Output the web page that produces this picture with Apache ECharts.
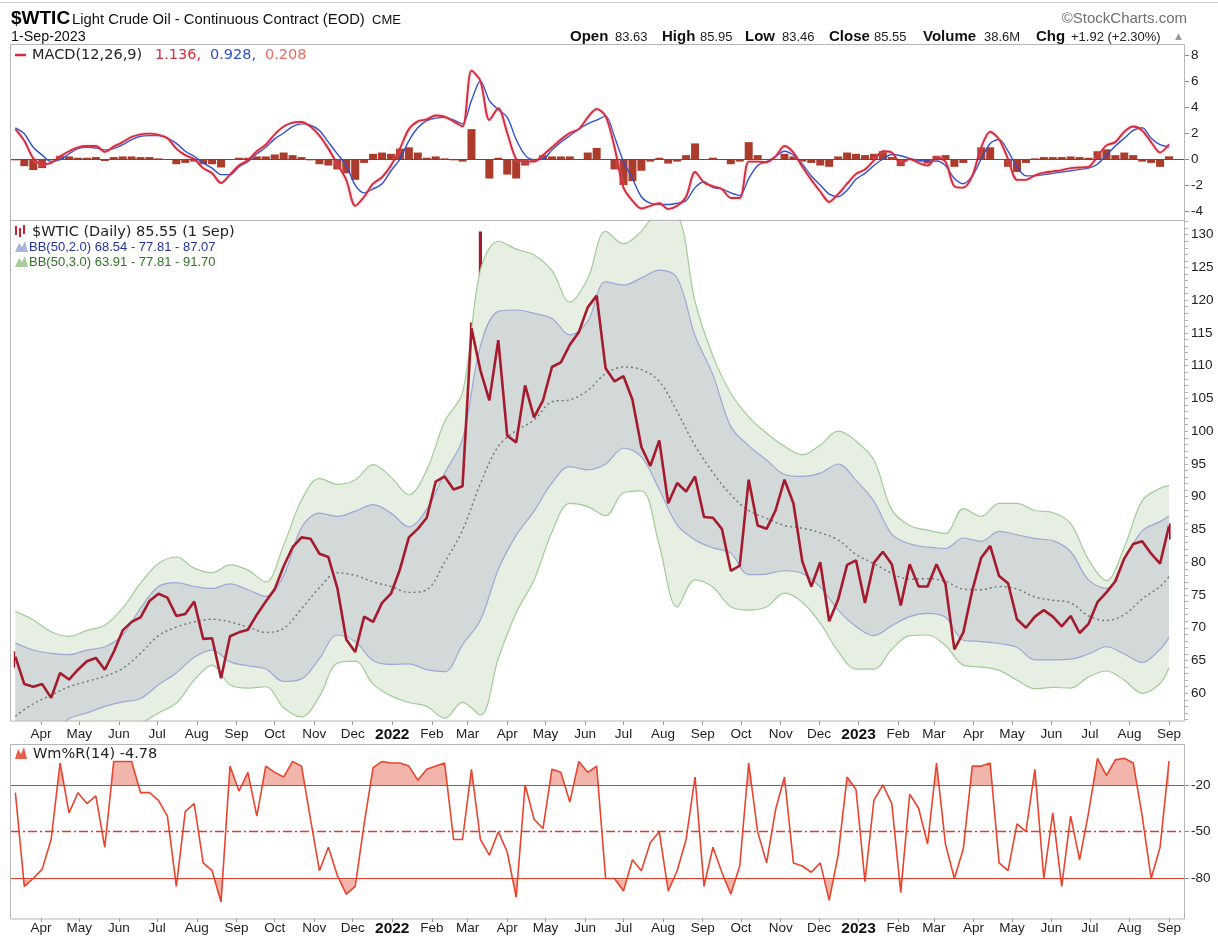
<!DOCTYPE html>
<html>
<head>
<meta charset="utf-8">
<title>$WTIC Light Crude Oil</title>
<script src="https://cdn.jsdelivr.net/npm/echarts@6.0.0/dist/echarts.min.js"></script>
<style>
  html, body { margin: 0; padding: 0; background: #fff; }
  #chart { width: 1218px; height: 937px; }
</style>
</head>
<body>
<div id="chart"></div>
<script>
// weekly samples (Fridays), starting 12 Mar 2021
const firstWeek = [2021, 2, 12];

const priceClose = [
  65.6, 61.4, 61.0, 61.4, 59.3, 63.1, 62.1, 63.6, 64.9, 65.4, 63.6, 66.3, 69.6, 70.9, 71.6, 74.1, 75.2, 74.6, 71.8, 72.1, 74.0, 68.3,
  68.4, 62.3, 68.7, 69.3, 69.7, 72.0, 74.0, 75.9, 79.4, 82.3, 83.8, 83.6, 81.3, 80.8, 76.1, 68.2, 66.3, 71.7, 70.9, 73.8, 75.2,
  78.9, 83.8, 85.1, 86.8, 92.3, 93.1, 91.1, 91.6, 115.7, 109.3, 104.7, 113.9, 99.3, 98.3, 107.0, 102.1, 104.7, 109.8, 110.5, 113.2,
  115.1, 118.9, 120.7, 109.6, 107.6, 108.4, 104.8, 97.6, 94.7, 98.6, 89.0, 92.1, 90.8, 93.1, 86.9, 86.8, 85.1, 78.7, 79.5, 92.6,
  85.6, 85.1, 87.9, 92.6, 89.0, 80.1, 76.3, 80.0, 71.0, 74.3, 79.6, 80.3,
  73.8, 79.9, 81.6, 79.7, 73.4, 79.7, 76.3, 76.3, 79.7, 76.7, 66.7, 69.3, 75.7, 80.7, 82.5, 77.9, 76.8, 71.3, 70.0, 71.7, 72.7,
  71.7, 70.2, 71.8, 69.2, 70.6, 73.9, 75.4, 77.1, 80.6, 82.8, 83.2, 81.3, 79.8, 85.55
];
const priceHigh = [
  66.4, 66.0, 61.5, 62.2, 61.5, 63.5, 64.0, 65.5, 66.6, 66.4, 66.0, 67.0, 69.8, 70.9, 72.9, 74.1, 76.0, 77.0, 75.5, 72.5, 74.0, 74.0,
  69.8, 68.6, 69.0, 70.0, 70.2, 73.0, 74.0, 76.7, 79.8, 82.2, 84.0, 85.4, 84.9, 84.9, 81.0, 79.3, 72.0, 72.6, 72.4, 73.9, 77.5,
  80.2, 84.0, 87.9, 88.8, 93.2, 94.0, 95.8, 100.5, 116.6, 130.5, 110.0, 115.4, 114.0, 105.6, 107.0, 108.6, 105.6, 111.4, 110.9, 115.0,
  115.2, 119.4, 123.2, 123.0, 111.7, 114.0, 111.5, 105.2, 104.2, 99.1, 98.9, 94.8, 92.8, 95.0, 97.7, 89.0, 89.4, 86.7, 82.7, 92.6,
  93.6, 86.6, 89.4, 92.7, 93.7, 89.3, 82.6, 83.3, 81.3, 77.8, 80.3, 81.2,
  81.5, 80.0, 82.4, 82.7, 79.5, 80.2, 80.0, 77.4, 80.2, 81.0, 76.0, 71.0, 75.8, 81.8, 83.5, 83.0, 79.2, 76.2, 74.0, 72.5, 74.7,
  73.5, 75.1, 72.0, 72.5, 71.0, 74.0, 77.3, 77.0, 80.8, 83.0, 84.9, 84.0, 81.0, 85.95
];
const priceLow = [
  63.9, 60.0, 57.3, 58.9, 58.2, 59.5, 60.7, 61.5, 63.0, 62.3, 61.6, 62.6, 66.0, 68.5, 70.0, 71.0, 72.8, 71.0, 71.0, 65.0, 71.3, 67.2,
  65.2, 61.7, 62.0, 66.8, 67.6, 69.0, 69.6, 73.0, 75.5, 78.5, 80.8, 81.0, 78.3, 78.0, 75.4, 67.4, 62.4, 66.0, 69.0, 66.1, 73.7,
  74.3, 78.1, 82.5, 82.0, 86.5, 88.2, 89.6, 88.3, 91.5, 103.5, 93.5, 102.2, 98.4, 93.9, 92.9, 100.5, 95.3, 101.0, 98.2, 102.7,
  108.7, 109.4, 116.0, 107.8, 101.5, 104.6, 95.1, 90.6, 94.2, 94.0, 87.0, 87.0, 85.7, 86.7, 85.5, 81.2, 83.0, 78.1, 76.3, 79.5,
  85.0, 82.1, 83.0, 86.3, 84.7, 79.6, 75.1, 76.0, 70.3, 70.6, 73.6, 77.4,
  72.5, 73.0, 78.0, 79.0, 72.3, 73.2, 75.8, 73.8, 75.8, 74.8, 65.7, 64.1, 69.3, 79.0, 79.5, 76.9, 74.8, 63.6, 69.8, 69.4, 70.6,
  67.0, 69.4, 67.1, 68.5, 67.1, 68.6, 72.7, 73.9, 76.4, 78.8, 80.6, 78.9, 77.6, 83.46
];

// Bollinger bands, every second week plus the last day
const bbUpper3 = [
  72.5, 71.2, 69.4, 68.7, 69.6, 70.4, 73.0, 76.8, 79.8, 80.8, 79.1, 78.4, 79.6, 78.8, 77.0, 82.6, 89.5, 92.8, 91.9, 92.6, 94.9, 93.0,
  90.3, 94.1, 101.5, 105.9, 124.6, 129.0, 127.8, 126.9, 124.5, 119.7, 123.3, 130.5, 128.6, 130.5, 133.5, 133.0, 119.8, 111.5,
  105.8, 102.2, 99.7, 97.7, 96.4, 97.9, 100.0, 98.5, 95.6, 88.0, 85.6, 84.9, 84.4, 88.2, 87.0, 89.0, 89.0, 87.9, 87.6, 85.9,
  80.4, 77.2, 82.3, 89.4, 91.3, 91.70
];
const bbUpper2 = [
  67.7, 66.6, 66.1, 65.9, 66.6, 67.1, 68.9, 73.0, 76.3, 76.9, 76.3, 76.0, 76.7, 75.8, 74.8, 78.0, 85.3, 87.5, 87.0, 87.8, 88.8, 87.5,
  85.4, 88.1, 93.6, 98.8, 113.0, 118.3, 118.5, 118.0, 117.2, 114.7, 116.8, 122.8, 122.3, 123.4, 124.6, 123.4, 114.6, 108.6,
  100.7, 97.8, 95.6, 93.4, 93.1, 93.6, 95.0, 92.5, 89.3, 84.3, 82.8, 82.3, 82.1, 83.7, 83.2, 84.7, 84.2, 83.6, 83.3, 81.6,
  77.3, 76.0, 80.4, 84.8, 86.2, 87.07
];
const bbMid = [
  56.5, 58.4, 59.7, 61.0, 61.8, 62.6, 63.8, 66.1, 68.8, 70.1, 70.9, 71.3, 70.9, 70.1, 69.3, 69.9, 72.9, 76.1, 78.4, 78.0, 77.0, 76.3,
  75.4, 75.8, 80.0, 84.9, 92.0, 97.7, 100.1, 101.7, 104.5, 104.8, 106.2, 108.8, 109.8, 109.4, 107.6, 103.0, 97.8, 93.7,
  90.3, 87.9, 86.7, 85.6, 85.2, 84.5, 83.4, 81.2, 79.8, 78.3, 77.4, 77.5, 77.1, 75.9, 75.8, 76.3, 75.9, 74.7, 74.2, 73.8,
  71.8, 71.1, 72.0, 74.4, 76.3, 77.81
];
const bbLower2 = [
  45.3, 50.2, 53.3, 56.1, 57.0, 58.0, 58.7, 59.2, 61.3, 63.1, 65.5, 66.6, 64.8, 64.2, 63.7, 61.8, 62.2, 65.3, 68.9, 67.9, 65.0, 64.4,
  64.5, 63.6, 63.3, 67.4, 71.2, 78.9, 84.1, 87.8, 92.1, 94.6, 94.1, 95.0, 97.4, 96.1, 91.1, 85.7, 83.4, 82.2,
  81.4, 78.1, 78.2, 78.7, 78.3, 76.2, 72.7, 70.2, 68.8, 70.3, 71.7, 72.2, 71.6, 68.1, 67.9, 67.6, 67.0, 65.1, 65.1, 65.2,
  66.0, 67.1, 66.0, 64.7, 66.7, 68.54
];
const bbLower3 = [
  40.5, 45.6, 50.0, 53.3, 54.2, 55.1, 54.6, 55.4, 57.0, 58.5, 62.0, 64.3, 61.3, 60.8, 61.0, 57.8, 56.4, 59.5, 64.6, 64.9, 61.4, 59.6,
  58.6, 58.0, 56.2, 58.6, 56.7, 65.3, 72.3, 77.3, 84.6, 89.0, 88.5, 87.1, 90.6, 90.9, 82.6, 73.2, 77.3, 76.2,
  73.2, 72.7, 73.2, 75.3, 73.9, 70.7, 66.4, 63.7, 63.7, 66.7, 68.8, 68.9, 67.3, 64.3, 64.0, 63.5, 62.0, 60.7, 60.9, 60.8,
  62.5, 63.4, 62.0, 60.0, 61.5, 63.91
];

// MACD(12,26,9), weekly
const macdLine = [
  2.3, 1.4, 0.05, -0.4, -0.3, 0.2, 0.6, 0.9, 1.0, 1.0, 0.55, 0.95, 1.3, 1.7, 1.9, 1.95, 1.85, 1.6, 0.8, 0.3, 0.0, -0.7,
  -1.1, -1.85, -1.2, -0.5, -0.1, 0.6, 1.1, 1.9, 2.5, 2.8, 2.85, 2.5, 1.8, 0.8, -0.4, -1.6, -3.6, -2.9, -1.9, -1.4, -0.5,
  0.8, 2.3, 2.9, 3.05, 3.35, 3.25, 2.9, 2.5, 6.8, 6.0, 3.0, 3.9, 2.0, 0.0, -0.2, -0.2, 0.3, 0.9, 1.5, 2.0,
  2.3, 3.2, 3.85, 3.3, 0.9, -2.2, -3.2, -3.8, -3.6, -3.4, -3.85, -3.6, -2.9, -1.0, -1.8, -2.1, -2.3, -3.0, -3.0, -0.2,
  -0.2, -0.25, 0.2, 1.0, 0.5, -0.6, -1.6, -2.5, -3.3, -2.7, -1.9, -1.15,
  -0.8, -0.1, 0.6, 0.5, -0.3, 0.0, -0.3, -0.5, 0.1, -0.2, -2.1, -2.2, -1.3, 0.9, 2.1, 1.5, 0.0, -1.6, -1.6, -1.25, -1.05,
  -0.95, -0.85, -0.7, -0.65, -0.6, 0.2, 1.05, 1.3, 2.1, 2.5, 2.2, 1.3, 0.5, 1.136
];
const macdSignal = [
  2.4, 1.95, 0.9, 0.3, -0.2, -0.05, 0.4, 0.8, 0.9, 0.85, 0.7, 0.8, 1.1, 1.5, 1.75, 1.8, 1.8, 1.6, 1.2, 0.6, 0.2, -0.3,
  -0.7, -1.2, -1.2, -0.6, -0.2, 0.4, 0.9, 1.55, 2.0, 2.5, 2.7, 2.6, 2.2, 1.3, 0.4, -0.5, -2.0, -2.6, -2.3, -1.9, -0.9,
  0.0, 1.4, 2.4, 2.95, 3.15, 3.2, 3.0, 2.7, 4.5, 6.0, 4.5, 3.8, 3.2, 1.5, 0.3, -0.05, 0.0, 0.7, 1.3, 1.8,
  2.3, 2.7, 3.0, 3.3, 1.7, -0.2, -1.5, -2.9, -3.4, -3.5, -3.5, -3.4, -3.2, -2.2, -1.75, -2.2, -2.3, -2.6, -2.8, -1.5,
  -0.5, -0.2, 0.2, 0.6, 0.3, -0.4, -1.3, -2.0, -2.7, -2.9, -2.4, -1.55,
  -1.1, -0.5, 0.0, 0.35, 0.25, 0.05, -0.1, -0.15, -0.15, -0.5, -1.5, -1.9, -1.3, 0.0, 1.2, 1.5, 0.6, -0.6, -1.3, -1.3, -1.2,
  -1.1, -1.0, -0.9, -0.8, -0.7, -0.4, 0.3, 1.0, 1.6, 2.2, 2.4, 1.6, 1.1, 0.928
];
const macdHist = [
  -0.1, -0.55, -0.85, -0.7, -0.1, 0.25, 0.2, 0.1, 0.1, 0.15, -0.15, 0.15, 0.2, 0.2, 0.15, 0.15, 0.05, 0.0, -0.4, -0.3, -0.2, -0.4,
  -0.4, -0.65, 0.0, 0.1, 0.1, 0.2, 0.2, 0.35, 0.5, 0.3, 0.15, -0.1, -0.4, -0.5, -0.8, -1.1, -1.6, -0.3, 0.4, 0.5, 0.4,
  0.8, 0.9, 0.5, 0.1, 0.2, 0.05, -0.1, -0.2, 2.3, 0.0, -1.5, 0.1, -1.2, -1.5, -0.5, -0.15, 0.3, 0.2, 0.2, 0.2,
  0.0, 0.5, 0.85, 0.0, -0.8, -2.0, -1.7, -0.9, -0.2, 0.1, -0.35, -0.2, 0.3, 1.2, -0.05, 0.1, 0.0, -0.4, -0.2, 1.3,
  0.3, -0.05, 0.0, 0.4, 0.2, -0.2, -0.3, -0.5, -0.6, 0.2, 0.5, 0.4,
  0.3, 0.4, 0.6, 0.15, -0.55, -0.05, -0.2, -0.35, 0.25, 0.3, -0.6, -0.3, 0.0, 0.9, 0.9, 0.0, -0.6, -1.0, -0.3, 0.05, 0.15,
  0.15, 0.15, 0.2, 0.15, 0.1, 0.6, 0.75, 0.3, 0.5, 0.3, -0.2, -0.3, -0.6, 0.208
];

// Williams %R(14), weekly
const williamsR = [
  -25, -85, -80, -74, -55, -6, -38, -25, -32, -27, -60, -5, -5, -5, -25, -25, -30, -40, -85, -37, -32, -70,
  -75, -95, -8, -24, -12, -40, -8, -12, -15, -5, -8, -42, -75, -60, -78, -90, -85, -45, -9, -5, -6,
  -6, -8, -17, -10, -8, -6, -55, -55, -10, -55, -65, -50, -63, -92, -20, -42, -48, -10, -12, -31,
  -5, -12, -8, -80, -80, -88, -68, -75, -57, -50, -88, -75, -55, -15, -85, -60, -76, -90, -72, -6,
  -50, -70, -36, -15, -70, -72, -76, -70, -94, -65, -15, -23,
  -82, -30, -20, -32, -89, -26, -35, -58, -6, -58, -80, -61, -8, -8, -6, -70, -75, -45, -50, -10, -80,
  -38, -85, -40, -68, -38, -3, -14, -4, -3, -6, -40, -80, -60, -4.78
];

// axis tick labels
const macdLabels = [-4, -2, 0, 2, 4, 6, 8];
const priceLabels = [60, 65, 70, 75, 80, 85, 90, 95, 100, 105, 110, 115, 120, 125, 130];
const wmrLabels = [-20, -50, -80];
const monthNames = ['Jan', 'Feb', 'Mar', 'Apr', 'May', 'Jun', 'Jul', 'Aug', 'Sep', 'Oct', 'Nov', 'Dec'];

const DAY = 86400000;
const t0 = new Date(firstWeek[0], firstWeek[1], firstWeek[2]).getTime();
const weekDates = priceClose.map((_, i) => t0 + i * 7 * DAY);
const bbDates = weekDates.filter((_, i) => i % 2 === 0 || i === weekDates.length - 1);

const monthTicks = [];
for (let y = 2021, m = 3; y < 2023 || m <= 8;) {
  monthTicks.push(new Date(y, m, 1).getTime());
  m++;
  if (m > 11) { m = 0; y++; }
}
const priceMinorTicks = [];
for (let v = 56; v <= 132; v++) priceMinorTicks.push(v);

const xMin = new Date(2021, 2, 8, 14).getTime();
const xMax = new Date(2023, 8, 13, 12).getTime();

const pair = (dates, vals) => dates.map((t, i) => [t, vals[i]]);

const monthLabel = (v) => {
  const d = new Date(v);
  return d.getMonth() === 0 ? '{yr|' + d.getFullYear() + '}' : monthNames[d.getMonth()];
};

// dates are plotted on a numeric (timestamp) axis so month ticks can be placed exactly
const xAxisFor = (idx, showLabels, margin) => {
  const axis = {
    type: 'value', gridIndex: idx, min: xMin, max: xMax,
    axisLine: { show: false, onZero: false },
    splitLine: { show: false }
  };
  if (!showLabels) return Object.assign(axis, { show: false });
  return Object.assign(axis, {
    axisTick: { show: true, customValues: monthTicks, length: 4, lineStyle: { color: '#9a9a9a' } },
    axisLabel: {
      show: true,
      customValues: monthTicks,
      formatter: monthLabel,
      margin: margin,
      color: '#1e1e1e',
      fontFamily: 'Liberation Sans',
      fontSize: 13.5,
      hideOverlap: false,
      rich: { yr: { fontFamily: 'Liberation Sans', fontWeight: 'bold', fontSize: 15.5, color: '#111' } }
    }
  });
};

const yLabelStyle = { color: '#222', fontFamily: 'Liberation Sans', fontSize: 13.5, margin: 6 };

const bbBand = (vals, fill, stroke) => ({
  type: 'line',
  xAxisIndex: 1,
  yAxisIndex: 1,
  data: pair(bbDates, vals),
  smooth: 0.35,
  showSymbol: false,
  silent: true,
  lineStyle: { color: stroke, width: 1.2 },
  areaStyle: { origin: 'start', color: fill, opacity: 1 }
});

const GREEN_FILL = '#e6efe2';
const GREY_FILL = '#d3d8d9';
const GREEN_LINE = '#a3cb99';
const BLUE_LINE = '#9ea8d6';
const PRICE_RED = '#a51a2c';

const chart = echarts.init(document.getElementById('chart'), null, { renderer: 'canvas' });

chart.setOption({
  animation: false,
  backgroundColor: '#fff',
  grid: [
    { left: 11, width: 1174, top: 45, height: 175 },
    { left: 11, width: 1174, top: 220, height: 501 },
    { left: 11, width: 1174, top: 745, height: 174 },
    { left: 11, width: 1174, top: 745, height: 40 },
    { left: 11, width: 1174, top: 879.3, height: 39.7 }
  ],
  xAxis: [
    xAxisFor(0, false),
    xAxisFor(1, true, 6),
    xAxisFor(2, true, 3),
    xAxisFor(3, false),
    xAxisFor(4, false)
  ],
  yAxis: [
    {
      type: 'value', gridIndex: 0, position: 'right', min: -4.69, max: 8.77,
      axisLine: { show: false },
      axisTick: { show: true, customValues: macdLabels, length: 4, lineStyle: { color: '#8a8a8a' } },
      axisLabel: Object.assign({ customValues: macdLabels }, yLabelStyle),
      splitLine: { show: false }
    },
    {
      type: 'value', gridIndex: 1, position: 'right', min: 55.77, max: 132.24,
      axisLine: { show: false },
      axisTick: { show: true, customValues: priceMinorTicks, length: 3, lineStyle: { color: '#b0b0b0' } },
      axisLabel: Object.assign({ customValues: priceLabels }, yLabelStyle),
      splitLine: { show: false }
    },
    {
      type: 'value', gridIndex: 2, position: 'right', min: -105.3, max: 5.53,
      axisLine: { show: false },
      axisTick: { show: true, customValues: wmrLabels, length: 4, lineStyle: { color: '#8a8a8a' } },
      axisLabel: Object.assign({ customValues: wmrLabels }, yLabelStyle),
      splitLine: { show: false }
    },
    { type: 'value', gridIndex: 3, min: -20, max: 5.53, show: false },
    { type: 'value', gridIndex: 4, min: -105.3, max: -80, show: false }
  ],
  series: [
    // MACD panel
    {
      type: 'bar', xAxisIndex: 0, yAxisIndex: 0, data: pair(weekDates, macdHist),
      barWidth: 8, itemStyle: { color: '#ad3b2c' }, silent: true,
      markLine: {
        silent: true, symbol: 'none', label: { show: false },
        lineStyle: { color: '#a03526', width: 1, type: 'solid' },
        data: [{ yAxis: 0 }]
      }
    },
    {
      type: 'line', xAxisIndex: 0, yAxisIndex: 0, data: pair(weekDates, macdSignal),
      smooth: 0.3, showSymbol: false, silent: true,
      lineStyle: { color: '#2d4ed0', width: 1.4 }
    },
    {
      type: 'line', xAxisIndex: 0, yAxisIndex: 0, data: pair(weekDates, macdLine),
      smooth: 0.3, showSymbol: false, silent: true,
      lineStyle: { color: '#d42c3e', width: 1.9, shadowColor: 'rgba(240,150,160,0.75)', shadowBlur: 2.5 }
    },
    // price panel: bands drawn top-down so each fill covers the one above it
    bbBand(bbUpper3, GREEN_FILL, GREEN_LINE),
    bbBand(bbUpper2, GREY_FILL, BLUE_LINE),
    bbBand(bbLower2, GREEN_FILL, BLUE_LINE),
    bbBand(bbLower3, '#ffffff', GREEN_LINE),
    {
      type: 'line', xAxisIndex: 1, yAxisIndex: 1, data: pair(bbDates, bbMid),
      smooth: 0.35, showSymbol: false, silent: true,
      lineStyle: { color: '#6c7774', width: 1.4, type: [2, 3] }
    },
    {
      type: 'custom', xAxisIndex: 1, yAxisIndex: 1, silent: true, clip: true,
      data: weekDates.map((t, i) => [t, priceLow[i], priceHigh[i]]),
      encode: { x: 0, y: [1, 2] },
      renderItem: (params, api) => {
        const lo = api.coord([api.value(0), api.value(1)]);
        const hi = api.coord([api.value(0), api.value(2)]);
        return {
          type: 'line',
          shape: { x1: lo[0], y1: lo[1], x2: hi[0], y2: hi[1] },
          style: { stroke: PRICE_RED, lineWidth: 3.2 }
        };
      }
    },
    {
      type: 'line', xAxisIndex: 1, yAxisIndex: 1, data: pair(weekDates, priceClose),
      showSymbol: false, silent: true,
      lineStyle: { color: PRICE_RED, width: 2.6 }
    },
    // Williams %R panel
    {
      type: 'line', xAxisIndex: 2, yAxisIndex: 2, data: pair(weekDates, williamsR),
      showSymbol: false, silent: true, z: 4,
      lineStyle: { color: '#e8442e', width: 1.6 },
      markLine: {
        silent: true, symbol: 'none', label: { show: false },
        lineStyle: { color: '#e03c2a', width: 1.2, type: 'solid' },
        data: [
          { yAxis: -20 },
          { yAxis: -80 },
          { yAxis: -50, lineStyle: { type: [9, 3, 2, 3], width: 1.4 } }
        ]
      }
    },
    {
      type: 'line', xAxisIndex: 3, yAxisIndex: 3, data: pair(weekDates, williamsR),
      showSymbol: false, silent: true, z: 1,
      lineStyle: { width: 0 },
      areaStyle: { origin: 'start', color: 'rgba(226,84,62,0.62)' }
    },
    {
      type: 'line', xAxisIndex: 4, yAxisIndex: 4, data: pair(weekDates, williamsR),
      showSymbol: false, silent: true, z: 1,
      lineStyle: { width: 0 },
      areaStyle: { origin: 'end', color: 'rgba(226,84,62,0.62)' }
    }
  ],
  graphic: [
    { type: 'line', z: 100, shape: { x1: 0, y1: 2.5, x2: 1218, y2: 2.5 }, style: { stroke: '#d0d0d0', lineWidth: 1 } },
    { type: 'rect', z: 100, shape: { x: 10.5, y: 44.5, width: 1174, height: 176 }, style: { fill: 'none', stroke: '#b6b6b6', lineWidth: 1 } },
    { type: 'rect', z: 100, shape: { x: 10.5, y: 220.5, width: 1174, height: 500.5 }, style: { fill: 'none', stroke: '#b6b6b6', lineWidth: 1 } },
    { type: 'rect', z: 100, shape: { x: 10.5, y: 744.5, width: 1174, height: 174.5 }, style: { fill: 'none', stroke: '#b6b6b6', lineWidth: 1 } },

    // header
    { type: 'text', z: 100, x: 11, y: 19, style: { text: '$WTIC', font: 'bold 19px "Liberation Sans"', fill: '#000', verticalAlign: 'middle' } },
    { type: 'text', z: 100, x: 72, y: 19.5, style: { text: 'Light Crude Oil - Continuous Contract (EOD)', font: '14.8px "Liberation Sans"', fill: '#111', verticalAlign: 'middle' } },
    { type: 'text', z: 100, x: 372, y: 20, style: { text: 'CME', font: '13px "Liberation Sans"', fill: '#111', verticalAlign: 'middle' } },
    { type: 'text', z: 100, x: 11, y: 37, style: { text: '1-Sep-2023', font: '14.3px "Liberation Sans"', fill: '#111', verticalAlign: 'middle' } },
    { type: 'text', z: 100, x: 1187, y: 19, style: { text: '\u00a9StockCharts.com', font: '15px "Liberation Sans"', fill: '#707070', align: 'right', verticalAlign: 'middle' } },

    { type: 'text', z: 100, x: 570, y: 37, style: { text: 'Open', font: 'bold 15px "Liberation Sans"', fill: '#111', verticalAlign: 'middle' } },
    { type: 'text', z: 100, x: 615, y: 37, style: { text: '83.63', font: '13px "Liberation Sans"', fill: '#222', verticalAlign: 'middle' } },
    { type: 'text', z: 100, x: 662, y: 37, style: { text: 'High', font: 'bold 15px "Liberation Sans"', fill: '#111', verticalAlign: 'middle' } },
    { type: 'text', z: 100, x: 700, y: 37, style: { text: '85.95', font: '13px "Liberation Sans"', fill: '#222', verticalAlign: 'middle' } },
    { type: 'text', z: 100, x: 745, y: 37, style: { text: 'Low', font: 'bold 15px "Liberation Sans"', fill: '#111', verticalAlign: 'middle' } },
    { type: 'text', z: 100, x: 782, y: 37, style: { text: '83.46', font: '13px "Liberation Sans"', fill: '#222', verticalAlign: 'middle' } },
    { type: 'text', z: 100, x: 829, y: 37, style: { text: 'Close', font: 'bold 15px "Liberation Sans"', fill: '#111', verticalAlign: 'middle' } },
    { type: 'text', z: 100, x: 874, y: 37, style: { text: '85.55', font: '13px "Liberation Sans"', fill: '#222', verticalAlign: 'middle' } },
    { type: 'text', z: 100, x: 923, y: 37, style: { text: 'Volume', font: 'bold 15px "Liberation Sans"', fill: '#111', verticalAlign: 'middle' } },
    { type: 'text', z: 100, x: 984, y: 37, style: { text: '38.6M', font: '13px "Liberation Sans"', fill: '#222', verticalAlign: 'middle' } },
    { type: 'text', z: 100, x: 1036, y: 37, style: { text: 'Chg', font: 'bold 15px "Liberation Sans"', fill: '#111', verticalAlign: 'middle' } },
    { type: 'text', z: 100, x: 1071, y: 37, style: { text: '+1.92 (+2.30%)', font: '13px "Liberation Sans"', fill: '#222', verticalAlign: 'middle' } },
    { type: 'text', z: 100, x: 1175, y: 37, style: { text: '\u25b2', font: '9px "DejaVu Sans"', fill: '#9a9a9a', verticalAlign: 'middle' } },

    // MACD legend
    { type: 'line', z: 100, shape: { x1: 15, y1: 55, x2: 26, y2: 55 }, style: { stroke: '#d42c3e', lineWidth: 2.5 } },
    { type: 'text', z: 100, x: 32, y: 55, style: { text: 'MACD(12,26,9)', font: '14.5px "DejaVu Sans"', fill: '#222', verticalAlign: 'middle' } },
    { type: 'text', z: 100, x: 155, y: 55, style: { text: '1.136,', font: '14.5px "DejaVu Sans"', fill: '#d42c3e', verticalAlign: 'middle' } },
    { type: 'text', z: 100, x: 210, y: 55, style: { text: '0.928,', font: '14.5px "DejaVu Sans"', fill: '#2d4ed0', verticalAlign: 'middle' } },
    { type: 'text', z: 100, x: 265, y: 55, style: { text: '0.208', font: '14.5px "DejaVu Sans"', fill: '#ee6a5e', verticalAlign: 'middle' } },

    // price legend
    { type: 'rect', z: 100, shape: { x: 15, y: 226, width: 2, height: 9 }, style: { fill: '#c8202e' } },
    { type: 'rect', z: 100, shape: { x: 19, y: 228, width: 2, height: 9 }, style: { fill: '#c8202e' } },
    { type: 'rect', z: 100, shape: { x: 23, y: 225, width: 2, height: 9 }, style: { fill: '#c8202e' } },
    { type: 'text', z: 100, x: 32, y: 232, style: { text: '$WTIC (Daily) 85.55 (1 Sep)', font: '14.5px "DejaVu Sans"', fill: '#222', verticalAlign: 'middle' } },
    { type: 'polygon', z: 100, shape: { points: [[15, 252], [19, 243], [22, 247], [25, 241], [28, 252]] }, style: { fill: '#aab4d8' } },
    { type: 'text', z: 100, x: 29, y: 247, style: { text: 'BB(50,2.0) 68.54 - 77.81 - 87.07', font: '13px "Liberation Sans"', fill: '#24349c', verticalAlign: 'middle' } },
    { type: 'polygon', z: 100, shape: { points: [[15, 267], [19, 258], [22, 262], [25, 256], [28, 267]] }, style: { fill: '#a9cc9f' } },
    { type: 'text', z: 100, x: 29, y: 262, style: { text: 'BB(50,3.0) 63.91 - 77.81 - 91.70', font: '13px "Liberation Sans"', fill: '#2f7424', verticalAlign: 'middle' } },

    // Williams %R legend
    { type: 'polygon', z: 100, shape: { points: [[15, 759], [18, 749], [21, 754], [24, 747], [27, 759]] }, style: { fill: '#e8604c' } },
    { type: 'text', z: 100, x: 33, y: 754, style: { text: 'Wm%R(14) -4.78', font: '14.5px "DejaVu Sans"', fill: '#222', verticalAlign: 'middle' } }
  ]
});

window.addEventListener('resize', () => chart.resize());
</script>
</body>
</html>
